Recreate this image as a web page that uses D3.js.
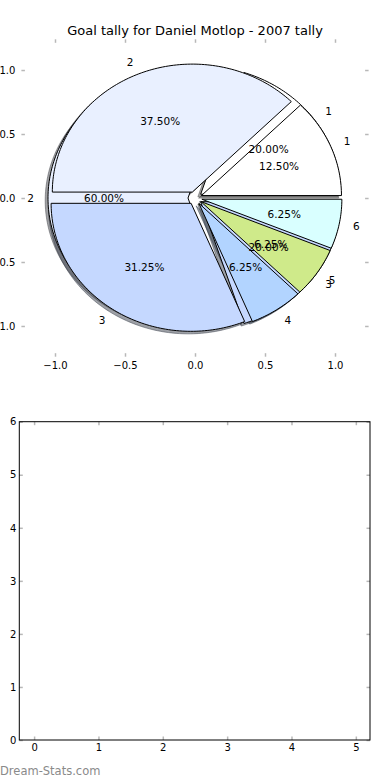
<!DOCTYPE html>
<html>
<head>
<meta charset="utf-8">
<script src="https://cdn.jsdelivr.net/npm/d3@7"></script>
<style>
body { margin: 0; background: #fff; }
text { font-family: "DejaVu Sans", sans-serif; }
</style>
</head>
<body>
<div id="chart"></div>
<script>
// chart data
var titleText = "Goal tally for Daniel Motlop - 2007 tally";
var innerLabels = ["1", "2", "3"];
var innerValues = [1, 3, 1];
var outerLabels = ["1", "2", "3", "4", "5", "6"];
var outerValues = [2, 6, 5, 1, 1, 1];
var sliceColors = ["#ffffff", "#e9f0ff", "#c5d8ff", "#b2d4ff", "#cfea8a", "#d9ffff"];
var pieTicks = [-1.0, -0.5, 0.0, 0.5, 1.0];
var xTicks = [0, 1, 2, 3, 4, 5];
var yTicks = [0, 1, 2, 3, 4, 5, 6];
var watermark = "Dream-Stats.com";

var explode = 0.05;
var pct = d3.format(".2f");
var tickGray = "#b8b8b8";

var svg = d3.select("#chart").append("svg")
    .attr("width", 390).attr("height", 780);

// ---- top axes (pie) ----
var x = d3.scaleLinear().domain([-1.24, 1.24]).range([21.4, 368.6]);
var y = d3.scaleLinear().domain([-1.24, 1.24]).range([356.7, 39.3]);

var line = d3.line()
    .x(function (d) { return x(d[0]); })
    .y(function (d) { return y(d[1]); });

// matplotlib angles: counter clockwise from +x, same order as d3.pie
var pie = d3.pie().sort(null);

function wedgePoints(a, ox, oy) {
    var mid = (a.startAngle + a.endAngle) / 2;
    var cx = explode * Math.cos(mid) + ox;
    var cy = explode * Math.sin(mid) + oy;
    var pts = [[cx, cy]];
    var n = Math.max(4, Math.ceil((a.endAngle - a.startAngle) / 0.02));
    for (var i = 0; i <= n; i++) {
        var t = a.startAngle + (a.endAngle - a.startAngle) * i / n;
        pts.push([cx + Math.cos(t), cy + Math.sin(t)]);
    }
    return line(pts) + "Z";
}

function shadowColor(c) {
    var r = d3.rgb(c);
    return d3.rgb(r.r * 0.3, r.g * 0.3, r.b * 0.3).toString();
}

var innerArcs = pie(innerValues);
var outerArcs = pie(outerValues);

var shadows = svg.append("g");
var wedges = svg.append("g");
var texts = svg.append("g");

[innerArcs, outerArcs].forEach(function (arcs) {
    shadows.selectAll(null)
        .data(arcs)
        .enter()
        .append("path")
        .attr("d", function (d) { return wedgePoints(d, -0.02, -0.02); })
        .attr("fill", function (d, i) { return shadowColor(sliceColors[i % sliceColors.length]); })
        .attr("stroke", function (d, i) { return shadowColor(sliceColors[i % sliceColors.length]); })
        .attr("fill-opacity", 0.5)
        .attr("stroke-opacity", 0.5)
        .attr("stroke-width", 1);

    wedges.append("g").selectAll("path")
        .data(arcs)
        .enter()
        .append("path")
        .attr("d", function (d) { return wedgePoints(d, 0, 0); })
        .attr("fill", function (d, i) { return sliceColors[i % sliceColors.length]; })
        .attr("stroke", "#000")
        .attr("stroke-width", 1)
        .attr("stroke-linejoin", "miter");
});

function addTexts(arcs, labels, total) {
    arcs.forEach(function (d, i) {
        var mid = (d.startAngle + d.endAngle) / 2;
        var lx = (explode + 1.1) * Math.cos(mid);
        var ly = (explode + 1.1) * Math.sin(mid);
        texts.append("text")
            .attr("x", x(lx)).attr("y", y(ly))
            .attr("dy", "0.36em")
            .attr("text-anchor", lx > 0 ? "start" : "end")
            .attr("font-size", "10.5px")
            .text(labels[i]);
        var px = (explode + 0.6) * Math.cos(mid);
        var py = (explode + 0.6) * Math.sin(mid);
        texts.append("text")
            .attr("x", x(px)).attr("y", y(py))
            .attr("dy", "0.36em")
            .attr("text-anchor", "middle")
            .attr("font-size", "10.5px")
            .text(pct(d.value / total * 100) + "%");
    });
}
addTexts(innerArcs, innerLabels, d3.sum(innerValues));
addTexts(outerArcs, outerLabels, d3.sum(outerValues));

svg.append("text")
    .attr("x", 195).attr("y", 34.5)
    .attr("text-anchor", "middle")
    .attr("font-size", "13px")
    .text(titleText);

function styleAxis(g) {
    g.select(".domain").remove();
    g.selectAll(".tick line").attr("stroke", tickGray).attr("stroke-width", 1.5);
    g.selectAll(".tick text").attr("fill", "#000").attr("font-size", "10px")
        .attr("font-family", "DejaVu Sans, sans-serif");
}

var f1 = d3.format(".1f");
svg.append("g").attr("transform", "translate(0," + y.range()[0] + ")")
    .call(d3.axisBottom(x).tickValues(pieTicks).tickFormat(f1).tickSize(-3.5).tickPadding(5))
    .call(styleAxis);
svg.append("g").attr("transform", "translate(0," + y.range()[1] + ")")
    .call(d3.axisTop(x).tickValues(pieTicks).tickFormat("").tickSize(-3.5))
    .call(styleAxis);
svg.append("g").attr("transform", "translate(" + x.range()[0] + ",0)")
    .call(d3.axisLeft(y).tickValues(pieTicks).tickFormat(f1).tickSize(-3.5).tickPadding(6))
    .call(styleAxis);
svg.append("g").attr("transform", "translate(" + x.range()[1] + ",0)")
    .call(d3.axisRight(y).tickValues(pieTicks).tickFormat("").tickSize(-3.5))
    .call(styleAxis);

// ---- bottom axes (empty) ----
var bx = d3.scaleLinear().domain([-0.23, 5.22]).range([19.3, 370]);
var by = d3.scaleLinear().domain([0, 6]).range([740, 421.7]);

svg.append("g").attr("transform", "translate(0,740)")
    .call(d3.axisBottom(bx).tickValues(xTicks).tickFormat(d3.format("d")).tickSize(-3.5).tickPadding(4))
    .call(styleAxis);
svg.append("g").attr("transform", "translate(0,421.7)")
    .call(d3.axisTop(bx).tickValues(xTicks).tickFormat("").tickSize(-3.5))
    .call(styleAxis);
svg.append("g").attr("transform", "translate(19.3,0)")
    .call(d3.axisLeft(by).tickValues(yTicks).tickFormat(d3.format("d")).tickSize(-3.5).tickPadding(3))
    .call(styleAxis);
svg.append("g").attr("transform", "translate(370,0)")
    .call(d3.axisRight(by).tickValues(yTicks).tickFormat("").tickSize(-3.5))
    .call(styleAxis);

svg.append("rect")
    .attr("x", bx.range()[0]).attr("y", by.range()[1])
    .attr("width", bx.range()[1] - bx.range()[0])
    .attr("height", by.range()[0] - by.range()[1])
    .attr("fill", "none").attr("stroke", "#000").attr("stroke-width", 1);

svg.append("text")
    .attr("x", 0).attr("y", 775)
    .attr("font-size", "11.5px")
    .attr("fill", "#8a8a8a")
    .text(watermark);
</script>
</body>
</html>
